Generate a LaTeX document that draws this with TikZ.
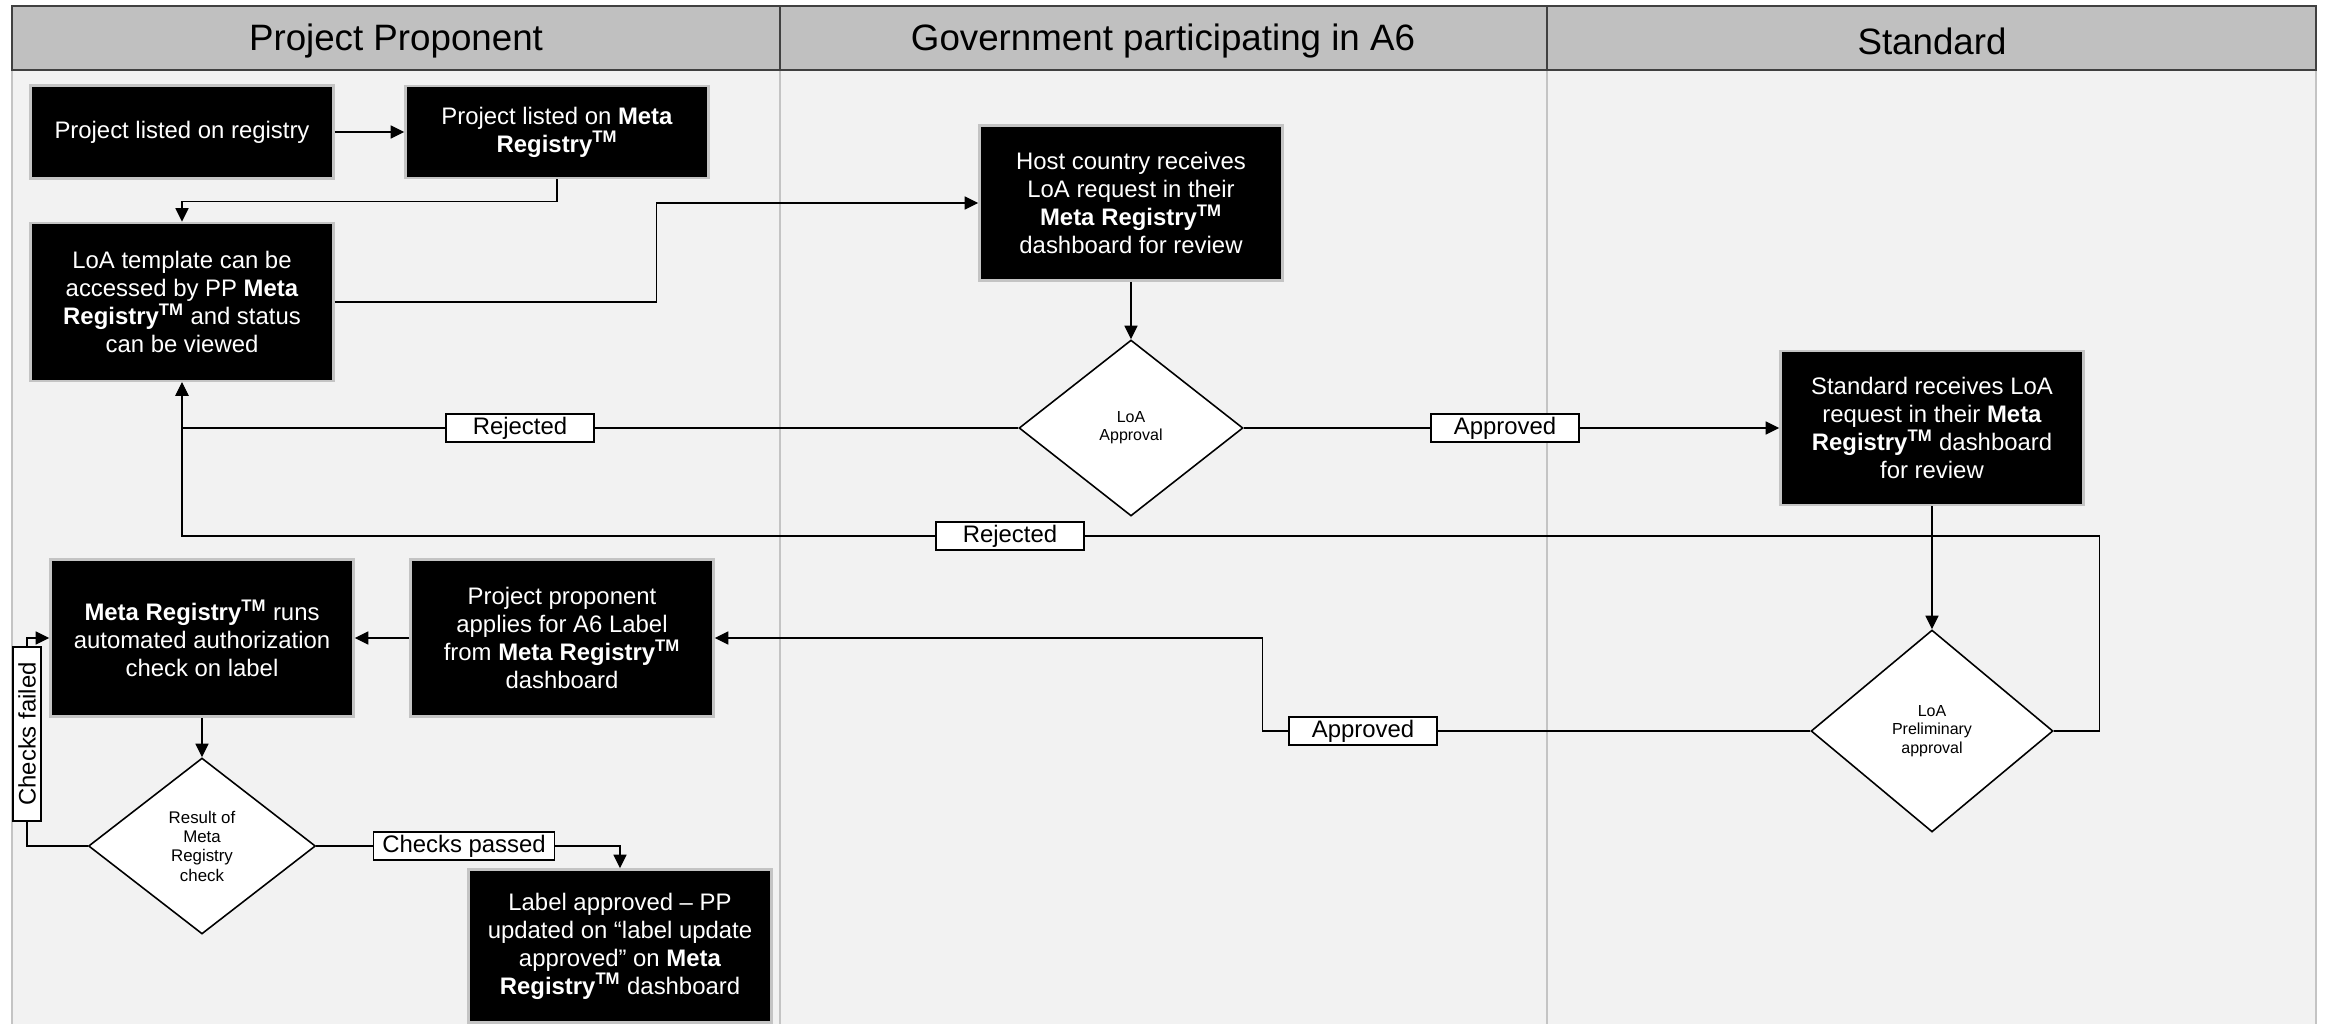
\documentclass[tikz,border=0pt]{standalone}
\usepackage{fontspec}
\setmainfont{Liberation Sans}
\usepackage{tikz}
\usetikzlibrary{shapes.geometric,arrows.meta}

\definecolor{lanebg}{HTML}{F2F2F2}
\definecolor{headbg}{HTML}{C0C0C0}
\definecolor{headline}{HTML}{404040}
\definecolor{laneline}{HTML}{C4C4C4}

\newcommand{\regtm}{\textbf{Registry}\textsuperscript{\textbf{TM}}}

\begin{document}
\begin{tikzpicture}[x=0.02cm, y=-0.02cm,
  box/.style={rectangle, fill=black, draw=laneline, line width=1.5pt, text=white, align=center,
    minimum width=6.06cm, inner sep=0pt, font=\fontsize{13.6}{15.9}\selectfont},
  dec/.style={diamond, fill=white, draw=black, line width=0.9pt, align=center, inner sep=0pt,
    font=\fontsize{9.1}{10.4}\selectfont},
  lbl/.style={rectangle, fill=white, draw=black, line width=0.7pt, minimum width=2.96cm,
    minimum height=0.56cm, inner sep=0pt, font=\fontsize{13.6}{15.9}\selectfont},
  lane/.style={font=\fontsize{20.9}{25}\selectfont},
  arr/.style={-{Triangle[length=0.27cm, width=0.26cm]}, line width=0.8pt},
  con/.style={line width=0.8pt}]
  \useasboundingbox (0,0) rectangle (2325,1024);
  % lanes
  \fill[white] (0,0) rectangle (2325,1024);
  \fill[lanebg] (12,70) rectangle (2316,1024);
  \draw[laneline, line width=1.3pt] (12,70) -- (12,1024) (780,70) -- (780,1024)
    (1547,70) -- (1547,1024) (2316,70) -- (2316,1024);
  \draw[headline, fill=headbg, line width=1.4pt] (12,6) rectangle (2316,70);
  \draw[headline, line width=1.4pt] (780,6) -- (780,70) (1547,6) -- (1547,70);
  \node (pp) [lane] at (396,41) {Project Proponent};
  \node (gov) [lane] at (1163,41) {Government participating in A6};
  \node (stdh) [lane] at (1932,41) {Standard};

  % steps
  \node (reg1) [box, minimum height=1.86cm] at (182,132) {Project listed on registry};
  \node (reg2) [box, minimum height=1.84cm] at (557,132) {Project listed on \textbf{Meta}\\\regtm};
  \node (tmpl) [box, minimum height=3.16cm] at (182,302) {LoA template can be\\accessed by PP \textbf{Meta}\\\regtm{} and status\\can be viewed};
  \node (host) [box, minimum height=3.1cm] at (1131,203) {Host country receives\\LoA request in their\\\textbf{Meta} \regtm\\dashboard for review};
  \node (loa) [dec, minimum width=4.48cm, minimum height=3.52cm] at (1131,428) {LoA\\Approval};
  \node (std) [box, minimum height=3.08cm] at (1932,428) {Standard receives LoA\\request in their \textbf{Meta}\\\regtm{} dashboard\\for review};
  \node (pre) [dec, minimum width=4.84cm, minimum height=4.04cm] at (1932,731) {LoA\\Preliminary\\approval};
  \node (run) [box, minimum height=3.14cm] at (202,638) {\textbf{Meta} \regtm{} runs\\automated authorization\\check on label};
  \node (apply) [box, minimum height=3.14cm] at (562,638) {Project proponent\\applies for A6 Label\\from \textbf{Meta} \regtm\\dashboard};
  \node (res) [dec, minimum width=4.54cm, minimum height=3.52cm, font=\fontsize{9.6}{11}\selectfont] at (202,846) {Result of\\Meta\\Registry\\check};
  \node (done) [box, minimum height=3.06cm] at (620,946) {Label approved – PP\\updated on “label update\\approved” on \textbf{Meta}\\\regtm{} dashboard};

  % labels
  \node (rej1) [lbl] at (520,428) {Rejected};
  \node (apr1) [lbl] at (1505,428) {Approved};
  \node (rej2) [lbl] at (1010,536) {Rejected};
  \node (apr2) [lbl] at (1363,731) {Approved};
  \node (pass) [lbl, minimum width=3.62cm] at (464,846) {Checks passed};
  \node (fail) [lbl, rotate=90, minimum width=3.48cm] at (27,734) {Checks failed};

  % connectors
  \draw[arr] (reg1) -- (reg2);
  \draw[arr] (reg2.south) -- ++(0,22) -| (tmpl.north);
  \draw[arr] (tmpl.east) -- ++(322,0) |- (host.west);
  \draw[arr] (host.south) -- (loa.north);
  \draw[con] (loa.west) -- (rej1.east);
  \draw[arr] (rej1.west) -| (tmpl.south);
  \draw[con] (loa.east) -- (apr1.west);
  \draw[arr] (apr1.east) -- (std.west);
  \draw[arr] (std.south) -- (pre.north);
  \draw[con] (pre.east) -- ++(46,0) |- (rej2.east);
  \draw[arr] (rej2.west) -| (tmpl.south);
  \draw[con] (pre.west) -- (apr2.east);
  \draw[arr] (apr2.west) -- ++(-26,0) |- (apply.east);
  \draw[arr] (apply.west) -- (run.east);
  \draw[arr] (run.south) -- (res.north);
  \draw[con] (res.west) -| (fail.west);
  \draw[arr] (fail.east) |- (run.west);
  \draw[con] (res.east) -- (pass.west);
  \draw[arr] (pass.east) -| (done.north);
\end{tikzpicture}
\end{document}
